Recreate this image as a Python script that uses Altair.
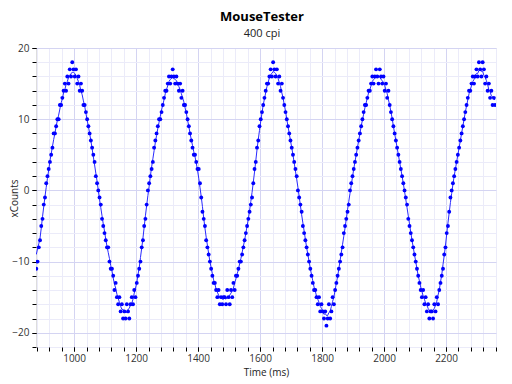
import altair as alt
import pandas as pd

# ---- data (xCounts per poll, ~4 ms apart) ----
T0 = 878          # time of first sample (ms)
DT = 4            # sample interval (ms)
seg_rise0 = [-11, -10, -8, -7, -5, -4, -2, -1,
             1, 2, 3, 4, 5, 6, 8, 8, 9, 10, 10, 12, 12, 13, 14, 15, 14, 16, 15, 17, 16, 18]
seg_fall1 = [17, 16, 17, 15, 16, 14, 15, 14, 12, 12, 11, 10, 9, 8, 7, 6, 5, 4, 2, 1, 0,
             -1, -2, -4, -5, -6, -7, -8, -8, -10, -11, -11, -12, -14, -13, -15, -16, -15, -17, -16, -18]
seg_rise1 = [-17, -18, -16, -17, -18, -16, -15, -16, -14, -15, -13, -12, -11, -10, -8, -7, -5, -4, -2, 0,
             1, 2, 3, 4, 6, 7, 8, 9, 10, 10, 11, 12, 13, 14, 14, 15, 16, 15, 16, 17, 16]
seg_fall2 = [15, 16, 15, 14, 15, 13, 14, 12, 12, 11, 10, 9, 8, 7, 6, 5, 5, 4, 3, 3, 1,
             -1, -3, -4, -5, -7, -8, -9, -10, -11, -12, -13, -13, -14, -15, -14, -16, -15, -16, -15]
seg_rise2 = [-15, -16, -14, -15, -16, -14, -15, -13, -14, -12, -12, -11, -10, -10, -9, -8, -7, -6, -5, -4, -3, -2, -1,
             1, 3, 4, 6, 7, 9, 10, 11, 12, 13, 14, 15, 15, 16, 17, 16]
seg_fall3 = [18, 17, 16, 17, 15, 16, 14, 15, 13, 12, 11, 10, 9, 8, 7, 6, 5, 4, 3, 2, 0,
             -1, -2, -3, -5, -6, -7, -8, -9, -10, -11, -12, -13, -14, -14, -15, -16, -15, -17, -16, -17, -18, -17]
seg_rise3 = [-19, -18, -16, -18, -17, -15, -16, -14, -13, -12, -11, -10, -9, -8, -6, -5, -4, -3, -2, 0,
             1, 2, 3, 4, 5, 6, 7, 8, 9, 10, 11, 12, 12, 13, 14, 14, 15, 16, 15, 16, 17, 16]
seg_fall4 = [15, 17, 16, 15, 16, 14, 15, 13, 14, 12, 11, 10, 9, 8, 7, 6, 5, 4, 3, 2, 1, 0,
             -1, -2, -4, -5, -6, -7, -8, -9, -10, -11, -12, -13, -14, -15, -14, -16, -15, -17, -16, -18, -17]
seg_rise4 = [-17, -18, -16, -17, -15, -16, -14, -13, -12, -11, -9, -8, -6, -5, -3, -1, 0,
             1, 2, 3, 4, 5, 6, 7, 8, 9, 10, 11, 12, 13, 14, 14, 15, 16, 15, 16, 17, 16, 18]
seg_fall5 = [17, 16, 18, 17, 15, 16, 14, 15, 13, 14, 12, 13, 12]

xcounts = (seg_rise0 + seg_fall1 + seg_rise1 + seg_fall2 + seg_rise2 + seg_fall3
           + seg_rise3 + seg_fall4 + seg_rise4 + seg_fall5)
time_ms = [T0 + DT * i for i in range(len(xcounts))]

x_major = [1000, 1200, 1400, 1600, 1800, 2000, 2200]
x_minor = list(range(880, 2361, 40))
y_major = [-20, -10, 0, 10, 20]
y_minor = list(range(-22, 21, 2))

df = pd.DataFrame({"t": time_ms, "c": xcounts})

FONT = "Open Sans"
xs = alt.Scale(domain=[877, 2361], nice=False, zero=False)
ys = alt.Scale(domain=[-22, 20], nice=False, zero=False)

minor_x = alt.Axis(orient="bottom", values=x_minor, labels=False, title=None, grid=True,
                   gridColor="#ebebf9", gridWidth=1, ticks=True, tickSize=4,
                   tickColor="#000000", domain=False)
minor_y = alt.Axis(orient="left", values=y_minor, labels=False, title=None, grid=True,
                   gridColor="#ebebf9", gridWidth=1, ticks=True, tickSize=4,
                   tickColor="#000000", domain=False)
major_x = alt.Axis(orient="bottom", values=x_major, format="d", title="Time (ms)", grid=True,
                   gridColor="#d4d4f2", gridWidth=1, ticks=True, tickSize=4,
                   tickColor="#000000", domain=False, labelFont=FONT, labelFontSize=10,
                   labelColor="#333333", labelPadding=2, titleFont=FONT, titleFontSize=10,
                   titleFontWeight="normal", titleColor="#222222", titlePadding=4)
major_y = alt.Axis(orient="left", values=y_major, format="d", title="xCounts", grid=True,
                   gridColor="#d4d4f2", gridWidth=1, ticks=True, tickSize=4,
                   tickColor="#000000", domain=False, labelFont=FONT, labelFontSize=10,
                   labelColor="#333333", labelPadding=3, titleFont=FONT, titleFontSize=10,
                   titleFontWeight="normal", titleColor="#222222",
                   titleX=-17, titleY=150, titleAngle=270, titleAlign="center",
                   titleBaseline="bottom")

line = alt.Chart(df).transform_window(
    sm="mean(c)", frame=[-3, 3], sort=[alt.SortField("t")]
).mark_line(color="#2a2aff", strokeWidth=1, clip=True).encode(
    x=alt.X("t:Q", scale=xs, axis=minor_x),
    y=alt.Y("sm:Q", scale=ys, axis=minor_y),
)

points = alt.Chart(df).mark_circle(color="#0000ff", size=15, opacity=1, clip=True).encode(
    x=alt.X("t:Q", scale=xs, axis=major_x),
    y=alt.Y("c:Q", scale=ys, axis=major_y),
)

chart = alt.layer(line, points).resolve_axis(x="independent", y="independent").properties(
    width=460,
    height=299,
    autosize=alt.AutoSizeParams(type="none"),
    padding={"left": 28, "top": 40, "right": 8, "bottom": 36},
    title=alt.TitleParams("MouseTester", subtitle="400 cpi", font=FONT, fontSize=13,
                          fontWeight="bold", color="#000000", subtitleFont=FONT,
                          subtitleFontSize=11, subtitleColor="#222222", anchor="middle",
                          offset=4, subtitlePadding=4, dx=-4),
).configure_view(stroke="#000000", strokeWidth=1).configure(background="white")

chart.save("out.html", embed_options={"renderer": "svg", "actions": False})
